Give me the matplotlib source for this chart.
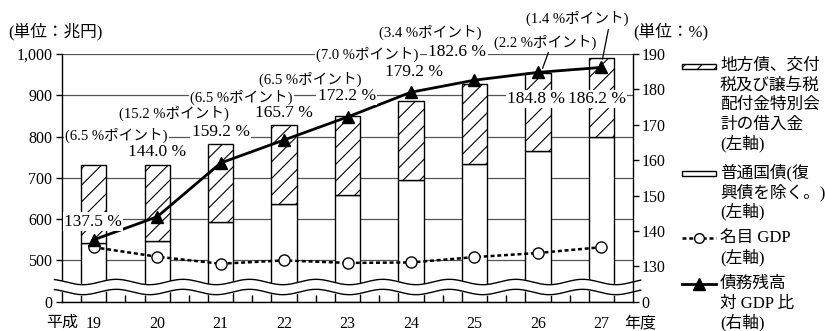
import numpy as np
import matplotlib
matplotlib.use("Agg")
import matplotlib.pyplot as plt
from matplotlib.patches import Rectangle
from matplotlib.lines import Line2D

plt.rcParams['font.family'] = ['Liberation Serif', 'Noto Sans CJK JP']
plt.rcParams['hatch.linewidth'] = 0.8

# data (trillion yen, left axis / percent, right axis)
years = ['19', '20', '21', '22', '23', '24', '25', '26', '27']
bonds = [541, 546, 593, 636, 659, 694, 734, 765, 800]          # 普通国債
total = [730, 732, 782, 827, 849, 885, 927, 955, 990]          # 普通国債 + 地方債等
gdp = [532, 509, 492, 500, 494, 495, 508, 518, 532]            # 名目GDP
ratio = [137.5, 144.0, 159.2, 165.7, 172.2, 179.2, 182.6, 184.8, 186.2]

left_ticks = [500, 600, 700, 800, 900, 1000]
right_ticks = [130, 140, 150, 160, 170, 180, 190]
LBASE = 400   # where "0" sits on the broken left axis
RBASE = 120   # where "0" sits on the broken right axis

# label positions (x index, left-axis value)
value_pos = [(-0.01, 594), (0.99, 763), (2.0, 811), (3.0, 857), (3.99, 898),
             (5.05, 956), (5.73, 1005), (6.97, 891), (7.93, 891)]
diff_pos = [(0.36, 803), (1.26, 855), (2.33, 896), (3.42, 939), (4.31, 998),
            (5.30, 1053), (7.11, 1029), (7.62, 1085)]

fig = plt.figure(figsize=(8.25, 3.31), dpi=100)
ax = fig.add_axes([0.0752, 0.0885, 0.6921, 0.7484])
ax2 = ax.twinx()

x = np.arange(len(years))
bw = 0.4
ax.set_axisbelow(True)
ax.yaxis.grid(True, color='#555555', linewidth=0.9)
ax.bar(x, np.array(bonds) - LBASE, bw, bottom=LBASE, color='white',
       edgecolor='black', linewidth=1.0, zorder=2)
ax.bar(x, np.array(total) - np.array(bonds), bw, bottom=bonds, color='white',
       edgecolor='black', linewidth=1.0, hatch='//', zorder=2)
ax.plot(x, gdp, color='black', linewidth=1.8, linestyle=(0, (1.6, 1.1)),
        marker='o', markersize=8, markerfacecolor='white',
        markeredgecolor='black', markeredgewidth=1.0, zorder=4)

# axis break band
wx = np.linspace(-0.62, 8.62, 400)
wave = 6.5 * np.cos(2 * np.pi * (wx + 0.17) / 1.05)
ax.fill_between(wx, 423.5 - wave, 447.7 - wave, color='white', zorder=6, clip_on=False)
ax.plot(wx, 447.7 - wave, color='black', linewidth=1.0, zorder=7, clip_on=False)
ax.plot(wx, 423.5 - wave, color='black', linewidth=1.0, zorder=7, clip_on=False)

ax.set_xlim(-0.5, len(years) - 0.5)
ax.set_ylim(LBASE, 1000)
ax.set_yticks([LBASE] + left_ticks)
ax.set_yticklabels(['0'] + [f'{v:,}' for v in left_ticks], fontsize=11.5)
ax.tick_params(axis='y', direction='out', length=4, width=1, pad=3)
ax.set_xticks(x)
ax.set_xticklabels(years, fontsize=11.5)
ax.tick_params(axis='x', which='major', length=0, pad=10)
ax.set_xticks(x[:-1] + 0.5, minor=True)
ax.tick_params(axis='x', which='minor', direction='in', length=5, width=1)
for s in ['top', 'right']:
    ax.spines[s].set_visible(False)
ax.spines['left'].set_linewidth(1.0)
ax.spines['bottom'].set_linewidth(1.0)

ax2.plot(x, ratio, color='black', linewidth=2.0, marker='^', markersize=8, zorder=5)
ax2.set_ylim(RBASE, 190)
ax2.set_yticks([RBASE] + right_ticks)
ax2.set_yticklabels(['0'] + [str(v) for v in right_ticks], fontsize=11.5)
ax2.tick_params(axis='y', direction='out', length=4, width=1, pad=2)
for s in ['top', 'left', 'bottom']:
    ax2.spines[s].set_visible(False)
ax2.spines['right'].set_linewidth(1.0)

box = dict(boxstyle='square,pad=0.08', facecolor='white', edgecolor='none')
for r, (px, py) in zip(ratio, value_pos):
    ax2.text(px, py, f'{r:.1f} %', transform=ax.transData, ha='center',
             va='center', fontsize=12.5, bbox=box, zorder=8)
for d, (px, py) in zip(np.diff(ratio), diff_pos):
    ax2.text(px, py, f'({d:.1f} %ポイント)', transform=ax.transData,
             ha='center', va='center', fontsize=10.5, bbox=box, zorder=8)
ax2.annotate('', xy=(7.06, 959), xytext=(7.18, 1010), xycoords=ax.transData,
             textcoords=ax.transData, annotation_clip=False,
             arrowprops=dict(arrowstyle='-', color='black', lw=0.9))
ax2.annotate('', xy=(8.01, 981), xytext=(8.12, 1066), xycoords=ax.transData,
             textcoords=ax.transData, annotation_clip=False,
             arrowprops=dict(arrowstyle='-', color='black', lw=0.9))


def fp(px, py):
    return px / 825, 1 - py / 331


fig.text(*fp(8, 32), '(単位：兆円)', fontsize=12, va='center')
fig.text(*fp(633, 32), '(単位：%)', fontsize=12, va='center')
fig.text(*fp(62, 323), '平成', fontsize=11.5, va='center', ha='center')
fig.text(*fp(640, 323), '年度', fontsize=11.5, va='center', ha='center')

# legend
lx0, lx1, tx = 682, 716, 720
fig.patches.append(Rectangle(fp(lx0, 68.5), (lx1 - lx0) / 825, 5 / 331,
                             transform=fig.transFigure, facecolor='white',
                             edgecolor='black', hatch='//', linewidth=1.0))
fig.patches.append(Rectangle(fp(lx0, 175.5), (lx1 - lx0) / 825, 5 / 331,
                             transform=fig.transFigure, facecolor='white',
                             edgecolor='black', linewidth=1.0))
fig.lines.append(Line2D([lx0 / 825, lx1 / 825], [fp(0, 238)[1]] * 2,
                        transform=fig.transFigure, color='black', linewidth=1.8,
                        linestyle=(0, (1.6, 1.1))))
fig.lines.append(Line2D([699 / 825], [fp(0, 238)[1]], transform=fig.transFigure,
                        marker='o', markersize=7, markerfacecolor='white',
                        markeredgecolor='black', linestyle='none'))
fig.lines.append(Line2D([lx0 / 825, lx1 / 825], [fp(0, 284)[1]] * 2,
                        transform=fig.transFigure, color='black', linewidth=2.0))
fig.lines.append(Line2D([699 / 825], [fp(0, 284)[1]], transform=fig.transFigure,
                        marker='^', markersize=8, color='black', linestyle='none'))

legend_lines = [
    (['地方債、交付', '税及び譲与税', '配付金特別会', '計の借入金', '(左軸)'], 66),
    (['普通国債(復', '興債を除く。)', '(左軸)'], 173),
    (['名目 GDP', '(左軸)'], 238),
    (['債務残高', '対 GDP 比', '(右軸)'], 284),
]
for lines, y0 in legend_lines:
    for i, t in enumerate(lines):
        fig.text(*fp(tx, y0 + i * 19.5), t, fontsize=12, va='center')

fig.savefig('out.png', dpi=100)
